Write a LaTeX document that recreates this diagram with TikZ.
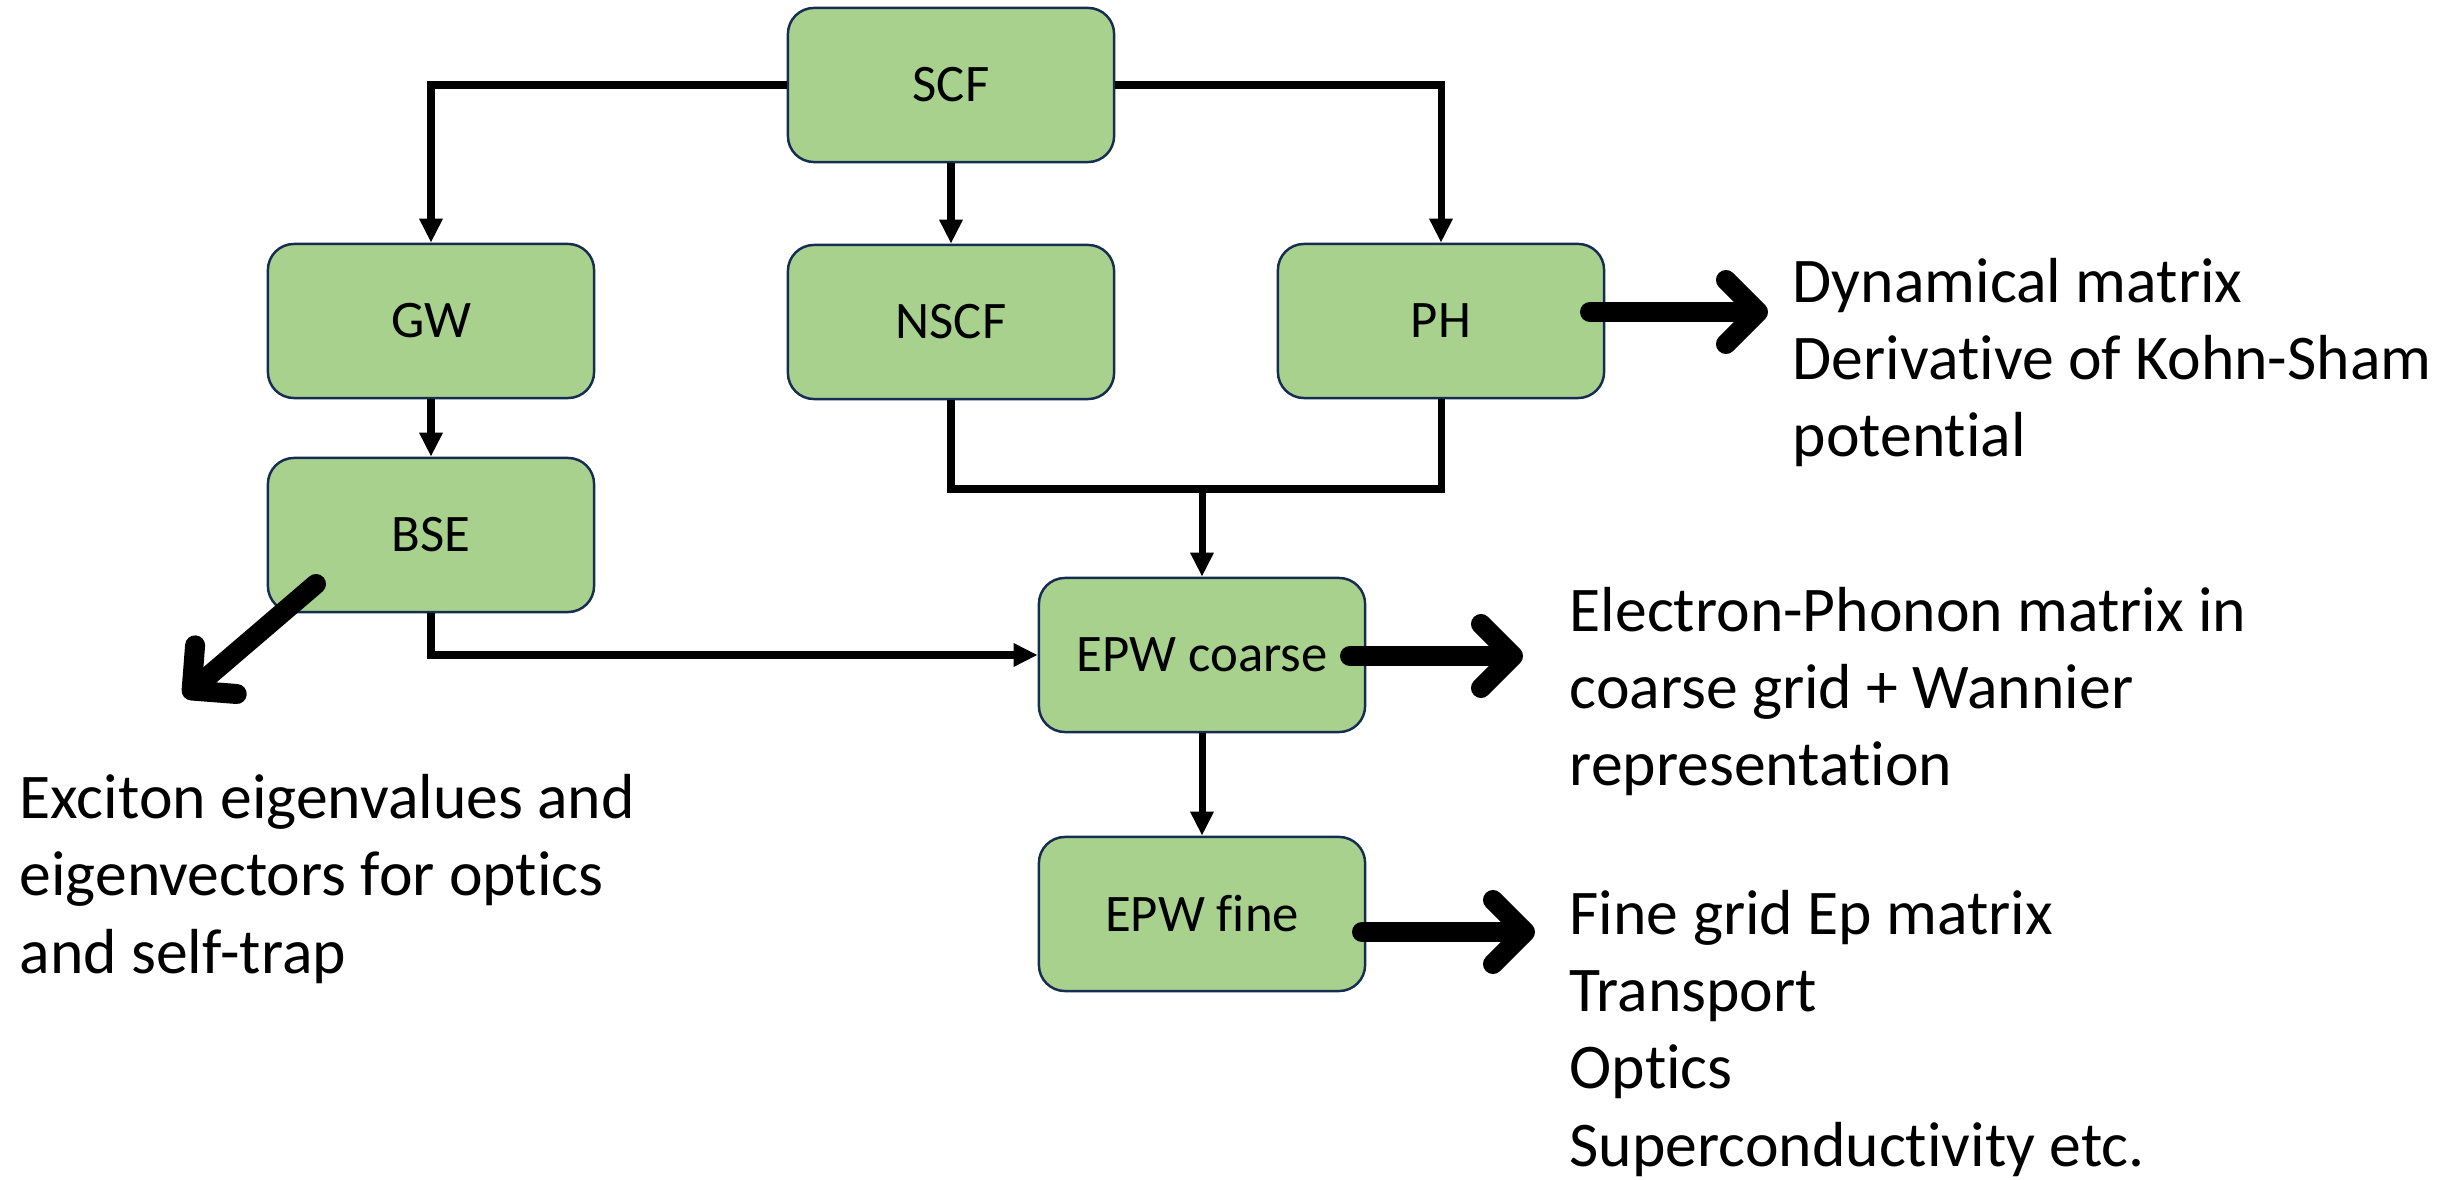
\documentclass[tikz,border=0pt]{standalone}
\usepackage{fontspec}
\setmainfont{Carlito}[Ligatures=NoCommon]
\usetikzlibrary{arrows.meta}
\definecolor{boxfill}{HTML}{A9D18E}
\definecolor{boxline}{HTML}{172C51}
\begin{document}
\begin{tikzpicture}[x=0.01cm,y=-0.01cm,
  proc/.style={draw=boxline, line width=0.7pt, fill=boxfill, rounded corners=0.26cm,
    minimum width=3.26cm, minimum height=1.54cm, inner sep=0pt,
    font=\fontsize{15}{18}\selectfont},
  conn/.style={line width=2pt, -{Triangle[length=0.24cm,width=0.22cm]}},
  link/.style={line width=2pt},
  bigarrow/.style={line width=0.2cm, line cap=round,
    -{Straight Barb[length=0.32cm,width=0.64cm,round]}},
  outtext/.style={align=left, inner sep=0pt, anchor=base west,
    font=\fontsize{18.1}{21.9}\selectfont}]
\useasboundingbox (0,0) rectangle (2440,1180);
% boxes
\node[proc] (scf) at (951,85) {SCF};
\node[proc] (gw) at (431,321) {GW};
\node[proc] (nscf) at (951,322) {NSCF};
\node[proc] (ph) at (1441,321) {PH};
\node[proc] (bse) at (431,535) {BSE};
\node[proc] (coarse) at (1202,655) {EPW coarse};
\node[proc] (fine) at (1202,914) {EPW fine};
% thin connectors
\draw[conn] (scf.west) -| (gw.north);
\draw[conn] (scf.south) -- (nscf.north);
\draw[conn] (scf.east) -| (ph.north);
\draw[conn] (gw.south) -- (bse.north);
\coordinate (join) at (1202,489);
\draw[link] (nscf.south) |- (join) -| (ph.south);
\draw[conn] (join) -- (coarse.north);
\draw[conn] (bse.south) |- (coarse.west);
\draw[conn] (coarse.south) -- (fine.north);
% output texts (anchored at the baseline of their last line)
\node[outtext] (dyn) at (1792,457) {Dynamical matrix\\Derivative of Kohn-Sham\\potential};
\node[outtext] (ep) at (1569,786) {Electron-Phonon matrix in\\coarse grid + Wannier\\representation};
\node[outtext] (fg) at (1569,1166) {Fine grid Ep matrix\\Transport\\Optics\\Superconductivity etc.};
\node[outtext] (exc) at (19,973) {Exciton eigenvalues and\\eigenvectors for optics\\and self-trap};
% thick arrows
\coordinate (pha) at (1590,312);
\coordinate (phb) at (1768,312);
\coordinate (coa) at (1350,656);
\coordinate (cob) at (1523,656);
\coordinate (fia) at (1362,932);
\coordinate (fib) at (1535,932);
\coordinate (bsa) at (316,584);
\coordinate (bsb) at (184,697);
\draw[bigarrow] (pha) -- (phb);
\draw[bigarrow] (coa) -- (cob);
\draw[bigarrow] (fia) -- (fib);
\draw[bigarrow] (bsa) -- (bsb);
\end{tikzpicture}
\end{document}
